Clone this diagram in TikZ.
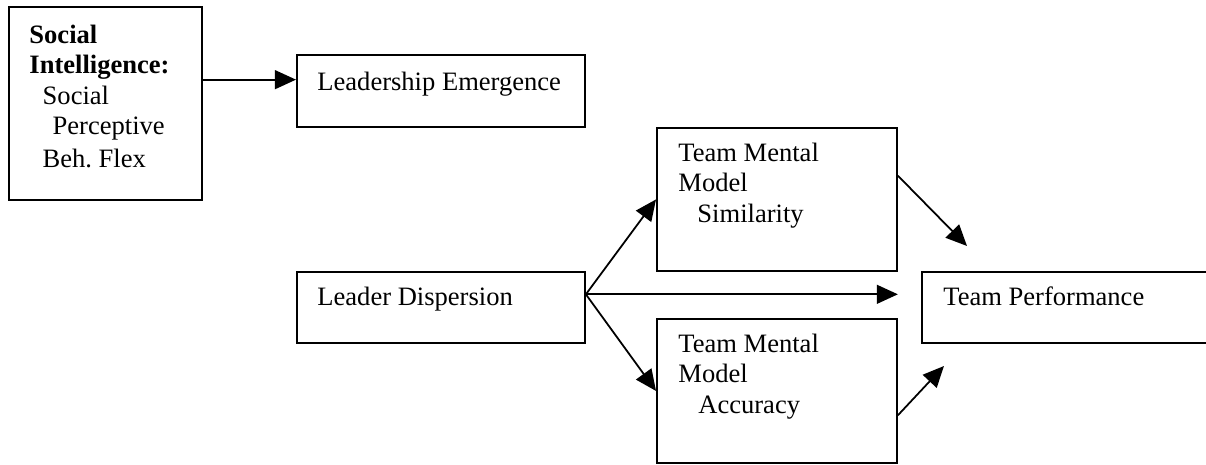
\documentclass[tikz,border=0pt]{standalone}
\usepackage{fontspec}
\setmainfont{Liberation Serif}
\usetikzlibrary{arrows.meta,calc}

\begin{document}
\begin{tikzpicture}[x=0.452pt,y=-0.452pt,
    box/.style={draw, line width=0.85pt, inner sep=0pt, anchor=north west},
    txt/.style={inner sep=0pt, align=left, font=\fontsize{12}{13.6}\selectfont},
    link/.style={line width=0.8pt, -{Triangle[length=9.5pt,width=8.5pt]}}]
  \useasboundingbox (0,0) rectangle (1206,465);

  %%%%% BOXES %%%%%
  \node[box, minimum width=193*0.452pt, minimum height=193*0.452pt] (si) at (8,6) {};
  \node[box, minimum width=288*0.452pt, minimum height=72*0.452pt] (le) at (296,54) {};
  \node[box, minimum width=288*0.452pt, minimum height=71*0.452pt] (ld) at (296,271) {};
  \node[box, minimum width=240*0.452pt, minimum height=143*0.452pt] (sim) at (656,127) {};
  \node[box, minimum width=240*0.452pt, minimum height=144*0.452pt] (acc) at (656,318) {};
  \node[box, minimum width=300*0.452pt, minimum height=71*0.452pt] (tp) at (921,271) {};

  %%%%% TEXTS %%%%%
  \node[txt, anchor=north west] (sitext) at (29,25)
    {\textbf{Social}\\ \textbf{Intelligence:}\\ \hspace*{6pt}Social\\
     \hspace*{10.5pt}Perceptive\\[1.5pt] \hspace*{6pt}Beh.\ Flex};
  \node[txt, anchor=base west] (letext) at (317,91) {Leadership Emergence};
  \node[txt, anchor=base west] (ldtext) at (317,306) {Leader Dispersion};
  \node[txt, anchor=north west] (simtext) at (678,143)
    {Team Mental\\ Model\\ \hspace*{8.6pt}Similarity};
  \node[txt, anchor=north west] (acctext) at (678,334)
    {Team Mental\\ Model\\ \hspace*{9pt}Accuracy};
  \node[txt, anchor=base west] (tptext) at (943,306) {Team Performance};

  %%%%% ARROWS %%%%%
  \coordinate (siout) at ($(si.north east)!0.378!(si.south east)$);
  \coordinate (lein) at (siout -| le.west);
  \draw[link] (siout) -- (lein);

  \coordinate (ldout) at ($(ld.north east)!0.32!(ld.south east)$);
  \coordinate (tpin) at (ldout -| sim.east);
  \draw[link] (ldout) -- (sim.west);
  \draw[link] (ldout) -- (acc.west);
  \draw[link] (ldout) -- (tpin);

  \coordinate (simout) at ($(sim.north east)!0.336!(sim.south east)$);
  \coordinate (tptop) at (967,246);
  \draw[link] (simout) -- (tptop);

  \coordinate (accout) at ($(acc.north east)!0.667!(acc.south east)$);
  \coordinate (tpbot) at (944,366);
  \draw[link] (accout) -- (tpbot);
\end{tikzpicture}
\end{document}
